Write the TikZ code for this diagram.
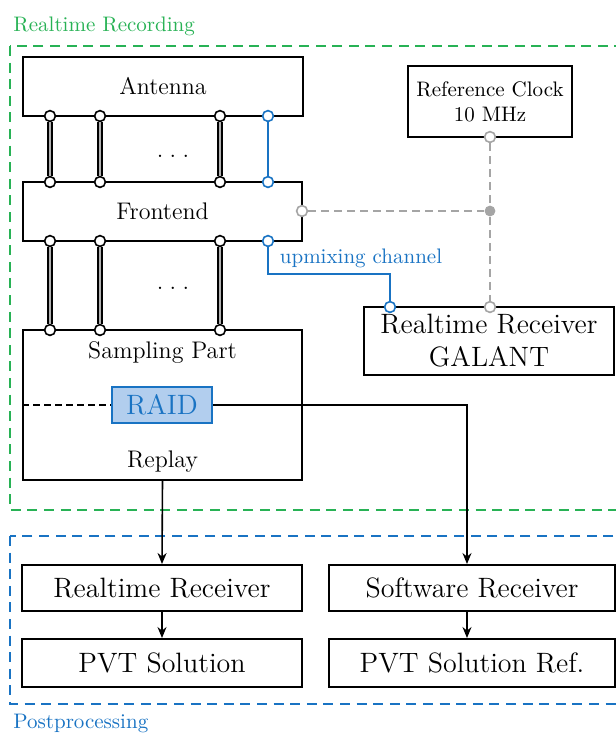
\documentclass[tikz,border=0pt]{standalone}
\usetikzlibrary{arrows.meta}
\definecolor{rgreen}{RGB}{40,178,85}
\definecolor{rblue}{RGB}{25,115,195}
\definecolor{rfill}{RGB}{178,206,238}
\definecolor{rgray}{RGB}{165,165,165}
\newcommand\rsbig{\fontsize{14}{16.5}\selectfont}
\newcommand\rsmid{\fontsize{12}{14}\selectfont}
\newcommand\rssmall{\fontsize{10.5}{12.5}\selectfont}
\begin{document}
\begin{tikzpicture}[x=0.5pt,y=-0.5pt,
  box/.style={draw, line width=1pt, rectangle, inner sep=0pt},
  port/.style={circle, draw, fill=white, line width=0.8pt, inner sep=0pt, minimum size=5.4pt},
  bport/.style={port, draw=rblue},
  gport/.style={port, draw=rgray},
  gdot/.style={circle, fill=rgray, inner sep=0pt, minimum size=5.4pt},
  dbl/.style={draw=black, line width=0.6pt, double=gray!60, double distance=1.4pt},
  bline/.style={draw=rblue, line width=0.8pt},
  gline/.style={draw=rgray, line width=0.6pt, dash pattern=on 4pt off 2.5pt},
  grnbox/.style={draw=rgreen, line width=1pt, dash pattern=on 5pt off 3.3pt},
  blubox/.style={draw=rblue, line width=1pt, dash pattern=on 5pt off 3.3pt},
  arr/.style={line width=0.8pt, -{Stealth[length=5.5pt,width=4.5pt]}}]
\clip (0,0) rectangle (616,735);

% group frames
\draw[grnbox] (10,46) rectangle (650,510);
\draw[blubox] (10,536) rectangle (650,704);
\node[anchor=base west, text=rgreen, font=\rssmall, inner sep=0pt] (lrec) at (13,31.5) {Realtime Recording};
\node[anchor=base west, text=rblue, font=\rssmall, inner sep=0pt] (lpost) at (13,728) {Postprocessing};

% boxes
\node[box, minimum width=140pt, minimum height=29.5pt, font=\rsmid] (ant) at (163,86.5) {Antenna};
\node[box, minimum width=139.5pt, minimum height=29.5pt, font=\rsmid] (fe) at (162.5,211.5) {Frontend};
\node[box, minimum width=139.5pt, minimum height=75pt] (samp) at (162.5,405) {};
\node[font=\rsmid, inner sep=0pt] (samplab) at (162.5,353) {Sampling Part};
\node[font=\rsmid, inner sep=0pt] (replab) at (162.5,462) {Replay};
\node[box, minimum width=82pt, minimum height=35.5pt, align=center, font=\rssmall] (clk) at (490,101.5) {Reference Clock\\10 MHz};
\node[box, minimum width=125pt, minimum height=34pt, align=center, font=\rsbig] (gal) at (489,341) {Realtime Receiver\\GALANT};
\node[box, draw=rblue, fill=rfill, minimum width=50pt, minimum height=18pt, text=rblue, font=\rsbig] (raid) at (162,405) {RAID};
\node[box, minimum width=140pt, minimum height=23pt, font=\rsbig] (rr) at (162,588) {Realtime Receiver};
\node[box, minimum width=143pt, minimum height=23pt, font=\rsbig] (sr) at (472,588) {Software Receiver};
\node[box, minimum width=140pt, minimum height=24pt, font=\rsbig] (pvt) at (162,663) {PVT Solution};
\node[box, minimum width=143pt, minimum height=24pt, font=\rsbig] (pvtr) at (472,663) {PVT Solution Ref.};

% dots
\node[font=\rsmid, anchor=base, inner sep=0pt] (dots1) at (173,157) {.\hspace{3.2pt}.\hspace{3.2pt}.};
\node[font=\rsmid, anchor=base, inner sep=0pt] (dots2) at (173,289) {.\hspace{3.2pt}.\hspace{3.2pt}.};

% ports antenna / frontend
\foreach \i/\x in {1/50,2/100,3/220}{
  \node[port] (a\i) at (\x,116) {};
  \node[port] (f\i) at (\x,182) {};
  \node[port] (g\i) at (\x,241) {};
  \node[port] (s\i) at (\x,330) {};
  \draw[dbl] (a\i) -- (f\i);
  \draw[dbl] (g\i) -- (s\i);
}
\node[bport] (a4) at (268,116) {};
\node[bport] (f4) at (268,182) {};
\node[bport] (g4) at (268,241) {};
\node[bport] (gb) at (390,307) {};
\draw[bline] (a4) -- (f4);
\coordinate (u1) at (268,274);
\coordinate (u2) at (390,274);
\draw[bline] (g4) -- (u1) -- (u2) -- (gb);
\node[text=rblue, font=\rssmall, anchor=base] (uplab) at (361,263) {upmixing channel};

% clock distribution
\node[gport] (fc) at (302,211) {};
\node[gport] (cb) at (490,137) {};
\node[gport] (gt) at (490,307) {};
\node[gdot] (jn) at (490,211) {};
\draw[gline] (fc) -- (jn);
\draw[gline] (cb) -- (jn) -- (gt);

% RAID lines
\draw[line width=0.9pt, dash pattern=on 3.5pt off 2pt] (samp.west |- raid.west) -- (raid.west);
\coordinate (sx) at (467,405);
\draw[arr] (raid.east) -- (sx) -- (sx |- sr.north);
\draw[arr] (samp.south) -- (rr.north);
\draw[arr] (rr.south) -- (pvt.north);
\draw[arr] (sr.south -| sx) -- (pvtr.north -| sx);
\end{tikzpicture}
\end{document}
